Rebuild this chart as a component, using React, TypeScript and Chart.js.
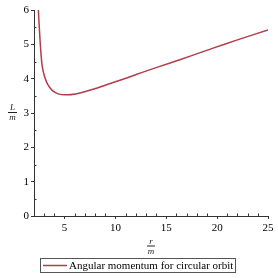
import React, { useEffect, useRef } from "react";
import { Chart, registerables } from "chart.js";

Chart.register(...registerables);

const rValues = [2.42, 2.5, 2.59, 2.67, 2.81, 3.03, 3.32, 3.79, 4.45, 5.26, 6.1, 6.9, 7.8, 9, 11.1, 13, 15.3, 17.5, 19.6, 22, 25];
const lValues = [6.05, 5.6, 5.15, 4.8, 4.36, 4.07, 3.85, 3.66, 3.55, 3.53, 3.555, 3.61, 3.69, 3.81, 4.02, 4.22, 4.45, 4.67, 4.89, 5.13, 5.42];
const xTicks = [5, 10, 15, 20, 25];
const yTicks = [0, 1, 2, 3, 4, 5, 6];
const seriesLabel = "Angular momentum for circular orbit";
const xTitle = ["r", "m"];
const yTitle = ["L", "m"];

const LINE_COLOR = "#b23d4a";
const AXIS_COLOR = "#333333";
const FONT = "'Liberation Serif', 'DejaVu Serif', serif";

function drawFraction(ctx: CanvasRenderingContext2D, num: string, den: string, cx: number, lineY: number, w: number) {
  ctx.save();
  ctx.fillStyle = "#222";
  ctx.font = `italic 9px ${FONT}`;
  ctx.textAlign = "center";
  ctx.textBaseline = "alphabetic";
  ctx.fillText(num, cx, lineY - 2);
  ctx.textBaseline = "top";
  ctx.fillText(den, cx, lineY + 1.5);
  ctx.strokeStyle = "#222";
  ctx.lineWidth = 1;
  ctx.beginPath();
  ctx.moveTo(cx - w / 2, lineY + 0.5);
  ctx.lineTo(cx + w / 2, lineY + 0.5);
  ctx.stroke();
  ctx.restore();
}

const decorPlugin = {
  id: "decor",
  afterDraw(chart: any) {
    const ctx: CanvasRenderingContext2D = chart.ctx;
    const { left, right, bottom } = chart.chartArea;
    const xs = chart.scales.x;
    const ys = chart.scales.y;
    ctx.save();
    ctx.strokeStyle = AXIS_COLOR;
    ctx.lineWidth = 1;
    ctx.beginPath();
    for (let v = 3; v <= 24; v++) {
      if (v % 5 === 0) continue;
      const px = Math.round(xs.getPixelForValue(v)) + 0.5;
      ctx.moveTo(px, bottom);
      ctx.lineTo(px, bottom - 2.5);
    }
    for (let v = 0.5; v < 6; v += 1) {
      const py = Math.round(ys.getPixelForValue(v)) + 0.5;
      ctx.moveTo(left, py);
      ctx.lineTo(left + 2.5, py);
    }
    ctx.stroke();
    ctx.restore();

    drawFraction(ctx, xTitle[0], xTitle[1], (left + right) / 2, 245.5, 8);
    drawFraction(ctx, yTitle[0], yTitle[1], 12.5, 112, 9);

    // legend
    ctx.save();
    ctx.strokeStyle = "#555";
    ctx.lineWidth = 1;
    ctx.strokeRect(40.5, 258.5, 195, 14);
    ctx.strokeStyle = LINE_COLOR;
    ctx.lineWidth = 1.5;
    ctx.beginPath();
    ctx.moveTo(43, 265.5);
    ctx.lineTo(67, 265.5);
    ctx.stroke();
    ctx.fillStyle = "#000";
    ctx.font = `11px ${FONT}`;
    ctx.textAlign = "left";
    ctx.textBaseline = "middle";
    ctx.fillText(seriesLabel, 69, 266);
    ctx.restore();
  },
};

export default function App() {
  const ref = useRef<HTMLCanvasElement>(null);
  useEffect(() => {
    if (!ref.current) return;
    const chart = new Chart(ref.current, {
      type: "line",
      data: {
        datasets: [
          {
            label: seriesLabel,
            data: rValues.map((r, i) => ({ x: r, y: lValues[i] })),
            borderColor: LINE_COLOR,
            borderWidth: 1.5,
            pointRadius: 0,
            fill: false,
            tension: 0.4,
          },
        ],
      },
      options: {
        animation: false,
        responsive: false,
        devicePixelRatio: 1,
        layout: { padding: { top: 10, right: 10, bottom: 42, left: 0 } },
        plugins: { legend: { display: false }, tooltip: { enabled: false } },
        scales: {
          x: {
            type: "linear",
            min: 2,
            max: 25,
            afterBuildTicks: (s: any) => {
              s.ticks = xTicks.map((v) => ({ value: v }));
            },
            afterFit: (s: any) => {
              s.height = 20;
            },
            grid: { display: true, drawOnChartArea: false, drawTicks: true, tickLength: 3, color: AXIS_COLOR },
            border: { display: true, color: AXIS_COLOR },
            ticks: { color: "#000", font: { family: FONT, size: 11 }, padding: 3, maxRotation: 0 },
          },
          y: {
            type: "linear",
            min: 0,
            max: 6,
            afterBuildTicks: (s: any) => {
              s.ticks = yTicks.map((v) => ({ value: v }));
            },
            afterFit: (s: any) => {
              s.width = 34;
            },
            grid: { display: true, drawOnChartArea: false, drawTicks: true, tickLength: 3, color: AXIS_COLOR },
            border: { display: true, color: AXIS_COLOR },
            ticks: { color: "#000", font: { family: FONT, size: 11 }, padding: 2 },
          },
        },
      },
      plugins: [decorPlugin],
    } as any);
    return () => chart.destroy();
  }, []);
  return (
    <div style={{ position: "absolute", left: 0, top: 0, width: 278, height: 278 }}>
      <canvas ref={ref} width={278} height={278} style={{ width: 278, height: 278 }} />
    </div>
  );
}
